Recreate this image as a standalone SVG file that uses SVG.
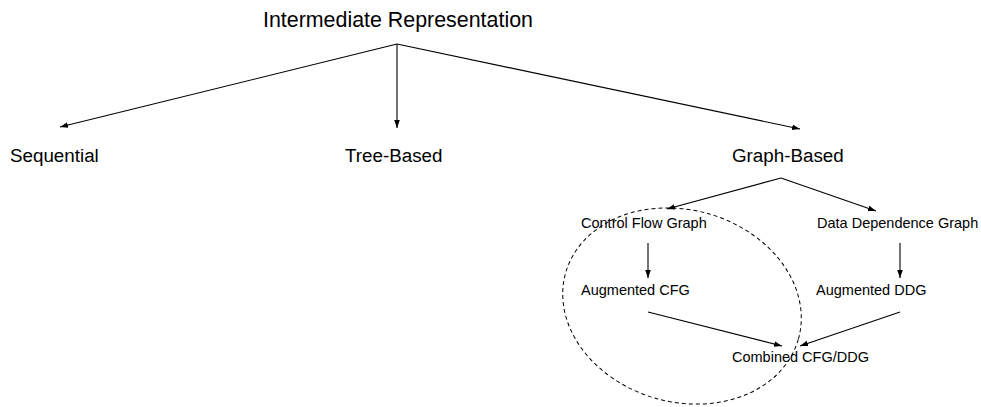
<svg xmlns="http://www.w3.org/2000/svg" width="981" height="407" viewBox="0 0 981 407">
<style>
text{font-family:"Liberation Sans",Arial,sans-serif;fill:#000}
.t1{font-size:21.4px}
.t2{font-size:18.8px}
.t3{font-size:14.5px}
.c{stroke:#000;stroke-width:1.1;fill:none;marker-end:url(#ah)}
</style>
<defs>
<marker id="ah" viewBox="0 0 10 10" refX="10" refY="5" markerWidth="8" markerHeight="8" markerUnits="userSpaceOnUse" orient="auto">
<path d="M0,1.5 L10,5 L0,8.5 Z" fill="#000"/>
</marker>
</defs>
<rect width="981" height="407" fill="#fff"/>
<g id="connectors">
<line class="c" x1="397" y1="44" x2="60" y2="127"/>
<line class="c" x1="397" y1="44" x2="397" y2="128"/>
<line class="c" x1="397" y1="44" x2="800" y2="129"/>
<line class="c" x1="781" y1="178" x2="667" y2="209"/>
<line class="c" x1="781" y1="178" x2="876" y2="211"/>
<line class="c" x1="648" y1="243" x2="648" y2="278"/>
<line class="c" x1="900" y1="243" x2="900" y2="278"/>
<line class="c" x1="648" y1="312" x2="782" y2="346"/>
<line class="c" x1="900" y1="312" x2="800" y2="346"/>
</g>
<g id="n-ir"><text class="t1" x="263" y="27">Intermediate Representation</text></g>
<g id="n-seq"><text class="t2" x="10" y="162">Sequential</text></g>
<g id="n-tree"><text class="t2" x="345" y="162">Tree-Based</text></g>
<g id="n-graph"><text class="t2" x="732" y="162">Graph-Based</text></g>
<g id="n-cfg"><text class="t3" x="581" y="228">Control Flow Graph</text></g>
<g id="n-ddg"><text class="t3" x="817" y="228">Data Dependence Graph</text></g>
<g id="n-acfg"><text class="t3" x="581" y="295">Augmented CFG</text></g>
<g id="n-addg"><text class="t3" x="816" y="295">Augmented DDG</text></g>
<g id="n-comb"><text class="t3" x="732" y="362">Combined CFG/DDG</text></g>
<g id="group-ellipse">
<ellipse cx="682" cy="306" rx="121" ry="96" transform="rotate(16 682 306)" fill="none" stroke="#000" stroke-width="1" stroke-dasharray="4,3"/>
</g>
</svg>
